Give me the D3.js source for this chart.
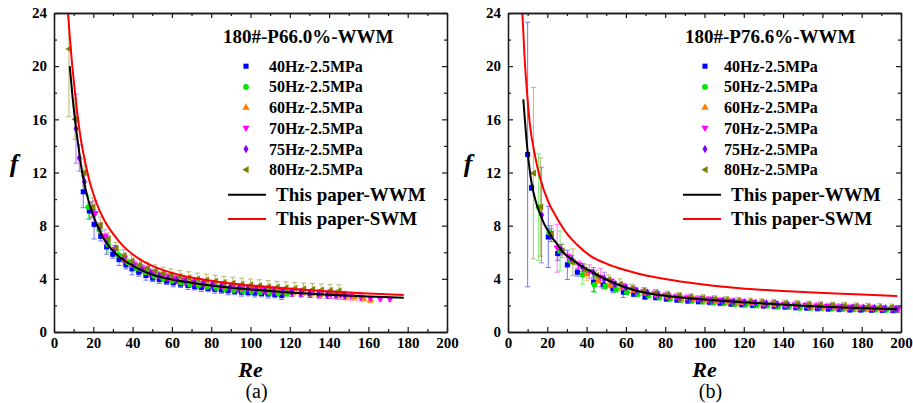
<!DOCTYPE html>
<html>
<head>
<meta charset="utf-8">
<script src="https://cdn.jsdelivr.net/npm/d3@7"></script>
<style>
body { margin: 0; background: #fff; }
svg { font-family: "Liberation Serif", "Times New Roman", serif; }
</style>
</head>
<body>
<div id="chart"></div>
<script>
// ticks
var reTicks = [0, 20, 40, 60, 80, 100, 120, 140, 160, 180, 200];
var reMinor = [10, 30, 50, 70, 90, 110, 130, 150, 170, 190];
var fTicks = [0, 4, 8, 12, 16, 20, 24];
var fMinor = [2, 6, 10, 14, 18, 22];

var seriesNames = ["40Hz-2.5MPa", "50Hz-2.5MPa", "60Hz-2.5MPa", "70Hz-2.5MPa", "75Hz-2.5MPa", "80Hz-2.5MPa"];
var seriesColors = ["#0000ff", "#00e600", "#ff8000", "#ff00ff", "#8000ff", "#808000"];
var lineNames = ["This paper-WWM", "This paper-SWM"];
var lineColors = ["#000000", "#ff0000"];

// panel (a) : [Re, f, error]
var a40 = [[14.9,10.55,1.2],[18.0,9.1,0.6],[20.4,8.1,1.1],[23.8,7.2,0.35],[26.8,6.4,0.55],[29.9,5.85,0.3],[33.1,5.45,0.45],[36.6,5.05,0.3],[39.7,4.75,0.45],[43.1,4.5,0.3],[46.8,4.25,0.35],[50.2,4.05,0.25],[53.6,3.95,0.3],[57.3,3.82,0.25],[60.7,3.7,0.3],[64.4,3.6,0.25],[68.2,3.5,0.3],[71.6,3.42,0.25],[75.0,3.35,0.3],[78.4,3.28,0.25],[81.8,3.22,0.3],[85.2,3.16,0.25],[88.6,3.1,0.3],[92.0,3.06,0.25],[95.4,3.0,0.3],[98.8,2.97,0.25],[102.2,2.93,0.3],[105.6,2.9,0.25],[109.0,2.86,0.3],[112.4,2.82,0.25],[115.9,2.75,0.3]];
var a50 = [[17.5,9.4,0.9],[23.1,7.7,0.3],[27.5,6.6,0.6],[32.7,5.8,0.35],[37.5,5.25,0.25],[42,4.8,0.3],[46.5,4.5,0.25],[51,4.22,0.25],[55.5,4.02,0.25],[60,3.85,0.25],[64.5,3.72,0.25],[69,3.6,0.25],[73.5,3.5,0.25],[78,3.4,0.25],[82.5,3.32,0.25],[87,3.24,0.25],[91.5,3.16,0.25],[96,3.1,0.25],[100.5,3.05,0.25],[105,3.0,0.25],[109.5,2.96,0.25],[114,2.92,0.25],[118.5,2.9,0.25]];
var a60 = [[36,5.4,0.3],[40.5,5.0,0.3],[45,4.7,0.25],[49.5,4.4,0.25],[54,4.2,0.25],[58.5,4.02,0.25],[63,3.9,0.25],[67.5,3.78,0.25],[72,3.67,0.25],[76.5,3.58,0.25],[81,3.5,0.25],[85.5,3.42,0.25],[90,3.35,0.25],[94.5,3.28,0.25],[99,3.22,0.25],[103.5,3.17,0.25],[108,3.12,0.25],[112.5,3.06,0.25],[117,3.0,0.25],[121.5,2.96,0.25],[126,2.9,0.25],[130.5,2.86,0.25],[135,2.82,0.25],[139.5,2.76,0.25],[144,2.72,0.25],[148.5,2.66,0.25],[153,2.6,0.25],[157.5,2.52,0.2],[161,2.38,0.2]];
var a70 = [[21,8.9,1.0],[26,7.2,0.5],[31,6.2,0.3],[36,5.55,0.3],[41,5.05,0.3],[46,4.72,0.3],[51,4.42,0.3],[56,4.2,0.3],[61,4.02,0.3],[66,3.88,0.3],[71,3.75,0.3],[76,3.64,0.3],[81,3.54,0.3],[86,3.46,0.3],[91,3.38,0.3],[96,3.3,0.3],[101,3.24,0.3],[106,3.18,0.3],[111,3.1,0.3],[116,3.06,0.3],[121,3.0,0.3],[126,2.96,0.3],[131,2.9,0.3],[136,2.86,0.3],[141,2.82,0.3],[146,2.76,0.3],[151,2.7,0.3],[156,2.58,0.25],[161,2.5,0.2],[166,2.47,0.15],[171,2.46,0.15]];
var a75 = [[11.2,15.3,2.6],[12.9,13.1,1.0],[15.5,11.3,0.8],[19.3,9.2,0.6],[23,7.9,0.3],[27,6.9,0.3],[31,6.2,0.3],[35.5,5.55,0.3],[40,5.1,0.3],[44.5,4.75,0.3],[49,4.45,0.3],[53.5,4.22,0.3],[58,4.05,0.3],[62.5,3.92,0.3],[67,3.8,0.3],[71.5,3.7,0.3],[76,3.6,0.3],[80.5,3.52,0.3],[85,3.44,0.3],[89.5,3.36,0.3],[94,3.3,0.3],[98.5,3.24,0.3],[103,3.18,0.3],[107.5,3.12,0.3],[112,3.06,0.3],[116.5,3.02,0.3],[121,2.98,0.3],[125.5,2.94,0.3],[130,2.9,0.3],[134.5,2.86,0.3],[139,2.82,0.3],[143.5,2.79,0.3],[148,2.76,0.3]];
var a80 = [[7.6,21.3,5.1],[10.7,16.0,1.5],[15.3,12.0,1.0],[19.5,9.4,0.7],[23.5,8.05,0.6],[27.5,7.0,0.45],[31.5,6.3,0.45],[35.5,5.75,0.45],[39.5,5.35,0.45],[43.5,5.05,0.45],[47.5,4.8,0.45],[51.5,4.6,0.45],[55.5,4.42,0.45],[59.5,4.3,0.45],[64,4.18,0.45],[68.5,4.08,0.45],[73,3.98,0.45],[77.5,3.9,0.45],[82,3.82,0.45],[86.5,3.74,0.45],[91,3.67,0.45],[95.5,3.6,0.45],[100,3.54,0.45],[104.5,3.48,0.45],[109,3.42,0.45],[113.5,3.37,0.45],[118,3.32,0.45],[122.5,3.28,0.45],[127,3.24,0.45],[131.5,3.2,0.45],[136,3.16,0.45],[140.5,3.13,0.45],[145,3.1,0.45]];
// panel (a) model curves : [Re, f]
var aWWM = [[8,20.0],[9.5,17.6],[11,15.6],[12.5,13.9],[14,12.3],[16,10.8],[18.3,9.5],[20.5,8.55],[22.5,7.85],[25,7.1],[27,6.65],[30,6.1],[35.3,5.42],[40,5.0],[43.8,4.7],[50,4.33],[60,3.95],[69.2,3.72],[80,3.5],[90,3.33],[100,3.2],[120,2.97],[140,2.8],[160,2.67],[178,2.57]];
var aSWM = [[7.1,24.0],[8,22.3],[9,20.5],[10,19.0],[12,16.3],[14,14.2],[16,12.7],[18,11.4],[20,10.4],[23,9.2],[26,8.3],[30,7.4],[35,6.5],[40,5.85],[45,5.35],[50,4.98],[60,4.45],[70,4.1],[80,3.85],[90,3.65],[100,3.5],[120,3.25],[140,3.05],[160,2.9],[178,2.78]];

// panel (b)
var b40 = [[10,13.35,9.95],[12,10.85,0.2],[20.5,7.15,2.3],[25.3,5.9,0.5],[30.2,5.05,1.1],[35.3,4.5,0.3],[43.6,3.75,0.7],[48.5,3.55,0.3],[53.4,3.25,0.3],[58.7,3.0,0.4],[64,2.85,0.2],[69.7,2.65,0.2],[75.2,2.6,0.2],[80.6,2.5,0.2],[86,2.42,0.2],[91.5,2.35,0.2],[97,2.3,0.2],[102.5,2.25,0.2],[108,2.18,0.2],[113.5,2.12,0.2],[119,2.07,0.2],[124.5,2.02,0.2],[130,1.98,0.2],[135.5,1.94,0.2],[141,1.9,0.2],[146.5,1.85,0.2],[152,1.82,0.2],[157.5,1.78,0.2],[163,1.75,0.2],[168.5,1.72,0.2],[174,1.68,0.2],[179.5,1.68,0.2],[185,1.66,0.2],[190.5,1.65,0.2],[196,1.64,0.2]];
var b50 = [[15.6,9.4,4.0],[21,7.5,0.5],[26.5,6.1,1.5],[32,5.35,0.3],[38,4.3,0.7],[44,3.55,0.6],[49.5,3.45,0.2],[55,3.2,0.2],[60.5,3.0,0.2],[66,2.85,0.2],[71.5,2.75,0.2],[77,2.6,0.2],[82.5,2.52,0.2],[88,2.42,0.2],[93.5,2.36,0.2],[99,2.3,0.2],[104.5,2.22,0.2],[110,2.18,0.2],[115.5,2.1,0.2],[121,2.06,0.2],[126.5,2.02,0.2],[132,2.0,0.2],[137.5,1.92,0.2],[143,1.9,0.2],[148.5,1.83,0.2],[154,1.82,0.2],[159.5,1.8,0.2],[165,1.78,0.2],[170.5,1.75,0.2],[176,1.73,0.2],[181.5,1.72,0.2],[187,1.7,0.2],[192.5,1.68,0.2],[198,1.66,0.2]];
var b60 = [[40,4.35,0.5],[46,3.85,0.2],[52,3.5,0.2],[58,3.3,0.2],[64,3.1,0.2],[70,2.9,0.2],[76,2.75,0.2],[82,2.62,0.2],[88,2.52,0.2],[94,2.45,0.2],[100,2.38,0.2],[106,2.3,0.2],[112,2.25,0.2],[118,2.2,0.2],[124,2.12,0.2],[130,2.08,0.2],[136,2.03,0.2],[142,1.98,0.2],[148,1.94,0.2],[154,1.9,0.2],[160,1.86,0.2],[166,1.82,0.2],[172,1.8,0.2],[178,1.77,0.2],[184,1.74,0.2],[190,1.72,0.2]];
var b70 = [[25,6.3,1.8],[30.5,5.65,0.3],[36,5.05,0.3],[41.5,4.55,0.5],[47,4.1,0.7],[52.5,3.8,0.25],[58,3.45,0.25],[63.5,3.2,0.25],[69,3.0,0.25],[74.5,2.85,0.25],[80,2.72,0.25],[85.5,2.63,0.25],[91,2.55,0.25],[96.5,2.48,0.25],[102,2.42,0.25],[107.5,2.36,0.25],[113,2.3,0.25],[118.5,2.25,0.25],[124,2.2,0.25],[129.5,2.15,0.25],[135,2.1,0.25],[140.5,2.06,0.25],[146,2.02,0.25],[151.5,1.98,0.25],[157,1.95,0.25],[162.5,1.91,0.25],[168,1.87,0.25],[173.5,1.84,0.25],[179,1.8,0.25],[184.5,1.78,0.25],[190,1.75,0.25],[195.5,1.73,0.25],[198.5,1.7,0.25]];
var b75 = [[17.1,8.8,3.6],[22,7.3,0.5],[27,6.2,0.4],[32.5,5.45,0.3],[38,4.85,0.3],[43.5,4.45,0.4],[49,4.0,0.5],[54.5,3.6,0.2],[60,3.35,0.2],[65.5,3.1,0.2],[71,2.95,0.2],[76.5,2.82,0.2],[82,2.7,0.2],[87.5,2.6,0.2],[93,2.53,0.2],[98.5,2.46,0.2],[104,2.4,0.2],[109.5,2.34,0.2],[115,2.28,0.2],[120.5,2.23,0.2],[126,2.18,0.2],[131.5,2.13,0.2],[137,2.08,0.2],[142.5,2.03,0.2],[148,2.0,0.2],[153.5,1.97,0.2],[159,1.93,0.2],[164.5,1.9,0.2],[170,1.87,0.2],[175.5,1.84,0.2],[181,1.81,0.2],[186.5,1.79,0.2],[192,1.77,0.2],[197.5,1.74,0.2]];
var b80 = [[12.9,11.95,6.45],[16.6,9.4,3.7],[22,7.4,0.6],[27.5,6.1,0.5],[33,5.25,1.0],[39,4.7,0.4],[45,4.25,0.4],[51,3.95,0.35],[57,3.6,0.4],[63,3.3,0.3],[69,3.1,0.25],[75,2.95,0.25],[81,2.82,0.25],[87,2.72,0.25],[93,2.63,0.25],[99,2.55,0.25],[105,2.48,0.25],[111,2.42,0.25],[117,2.36,0.25],[123,2.3,0.25],[129,2.25,0.25],[135,2.2,0.25],[141,2.15,0.25],[147,2.11,0.25],[153,2.07,0.25],[159,2.03,0.25],[165,2.0,0.25],[171,1.97,0.25],[177,1.94,0.25],[183,1.91,0.25],[189,1.88,0.25],[195,1.85,0.25]];
var bWWM = [[7.8,17.5],[9.9,13.7],[12,11.2],[14,9.9],[16.3,8.9],[18.5,8.1],[20.5,7.6],[22.5,7.1],[24.8,6.65],[28,6.0],[33.2,5.4],[37,5.0],[41.7,4.6],[46,4.25],[50,3.95],[57,3.5],[67,3.05],[76,2.8],[88,2.6],[100,2.45],[118,2.25],[135,2.1],[150,1.98],[170,1.85],[198,1.72]];
var bSWM = [[7.3,24.0],[8.5,20.5],[9.5,18.4],[11,15.8],[13.7,13.3],[16.3,11.6],[20.5,9.8],[24.8,8.6],[30,7.4],[34.9,6.6],[41.7,5.75],[50,5.15],[58.7,4.7],[67,4.37],[75.7,4.1],[92.6,3.7],[118,3.29],[140,3.08],[158,2.95],[180,2.82],[198,2.7]];

var W = 913, H = 403;
var svg = d3.select("#chart").append("svg")
  .attr("width", W).attr("height", H);

// simbolos
var triDown = { draw: function(ctx, size) { var r = Math.sqrt(size / 1.3) ; ctx.moveTo(0, r * 0.75); ctx.lineTo(r * 0.75, -r * 0.55); ctx.lineTo(-r * 0.75, -r * 0.55); ctx.closePath(); } };
var triLeft = { draw: function(ctx, size) { var r = Math.sqrt(size / 1.3); ctx.moveTo(-r * 0.75, 0); ctx.lineTo(r * 0.55, -r * 0.75); ctx.lineTo(r * 0.55, r * 0.75); ctx.closePath(); } };
var seriesSymbols = [d3.symbolSquare, d3.symbolCircle, d3.symbolTriangle, triDown, d3.symbolDiamond, triLeft];
var symbolSizes = [26, 26, 24, 30, 22, 30];

function drawPanel(p) {
  var g = svg.append("g");
  var x = d3.scaleLinear().domain([0, 200]).range([p.x0, p.x1]);
  var y = d3.scaleLinear().domain([0, 24]).range([332, 13]);

  var clipId = "clip" + p.id;
  svg.append("clipPath").attr("id", clipId).append("rect")
    .attr("x", p.x0).attr("y", 13).attr("width", p.x1 - p.x0).attr("height", 319);

  // puntos y barras de error
  var plot = g.append("g").attr("clip-path", "url(#" + clipId + ")");
  p.series.forEach(function(data, i) {
    var col = seriesColors[i];
    var eb = plot.append("g").attr("stroke", col).attr("stroke-width", 1).attr("opacity", 0.55);
    eb.selectAll("line.v").data(data).enter().append("line")
      .attr("x1", function(d) { return x(d[0]); }).attr("x2", function(d) { return x(d[0]); })
      .attr("y1", function(d) { return y(d[1] - d[2]); }).attr("y2", function(d) { return y(d[1] + d[2]); });
    eb.selectAll("line.t").data(data).enter().append("line")
      .attr("x1", function(d) { return x(d[0]) - 2.5; }).attr("x2", function(d) { return x(d[0]) + 2.5; })
      .attr("y1", function(d) { return y(d[1] + d[2]); }).attr("y2", function(d) { return y(d[1] + d[2]); });
    eb.selectAll("line.b").data(data).enter().append("line")
      .attr("x1", function(d) { return x(d[0]) - 2.5; }).attr("x2", function(d) { return x(d[0]) + 2.5; })
      .attr("y1", function(d) { return y(d[1] - d[2]); }).attr("y2", function(d) { return y(d[1] - d[2]); });
  });
  p.series.forEach(function(data, i) {
    plot.selectAll(null).data(data).enter().append("path")
      .attr("d", d3.symbol().type(seriesSymbols[i]).size(symbolSizes[i]))
      .attr("transform", function(d) { return "translate(" + x(d[0]) + "," + y(d[1]) + ")"; })
      .attr("fill", seriesColors[i]);
  });

  // curvas
  var line = d3.line().x(function(d) { return x(d[0]); }).y(function(d) { return y(d[1]); })
    .curve(d3.curveMonotoneX);
  plot.append("path").datum(p.wwm).attr("d", line)
    .attr("fill", "none").attr("stroke", lineColors[0]).attr("stroke-width", 2);
  plot.append("path").datum(p.swm).attr("d", line)
    .attr("fill", "none").attr("stroke", lineColors[1]).attr("stroke-width", 2);

  // ejes
  function styleAxis(sel) {
    sel.selectAll("path").attr("stroke", "#1a1a1a").attr("stroke-width", 1.3);
    sel.selectAll("line").attr("stroke", "#1a1a1a").attr("stroke-width", 1.2);
    sel.selectAll("text").attr("fill", "#000").style("font-size", "15px").style("font-weight", "bold")
      .style("font-family", "'Liberation Serif', serif");
  }
  g.append("g").attr("transform", "translate(0,332)")
    .call(d3.axisBottom(x).tickValues(reTicks).tickSize(-5).tickSizeOuter(0).tickPadding(5)).call(styleAxis);
  g.append("g").attr("transform", "translate(0,332)")
    .call(d3.axisBottom(x).tickValues(reMinor).tickSize(-3).tickSizeOuter(0).tickFormat("")).call(styleAxis);
  g.append("g").attr("transform", "translate(0,13)")
    .call(d3.axisTop(x).tickValues(reTicks).tickSize(-5).tickSizeOuter(0).tickFormat("")).call(styleAxis);
  g.append("g").attr("transform", "translate(0,13)")
    .call(d3.axisTop(x).tickValues(reMinor).tickSize(-3).tickSizeOuter(0).tickFormat("")).call(styleAxis);
  g.append("g").attr("transform", "translate(" + p.x0 + ",0)")
    .call(d3.axisLeft(y).tickValues(fTicks).tickSize(-5).tickSizeOuter(0).tickPadding(7)).call(styleAxis);
  g.append("g").attr("transform", "translate(" + p.x0 + ",0)")
    .call(d3.axisLeft(y).tickValues(fMinor).tickSize(-3).tickSizeOuter(0).tickFormat("")).call(styleAxis);
  g.append("g").attr("transform", "translate(" + p.x1 + ",0)")
    .call(d3.axisRight(y).tickValues(fTicks).tickSize(-5).tickSizeOuter(0).tickFormat("")).call(styleAxis);
  g.append("g").attr("transform", "translate(" + p.x1 + ",0)")
    .call(d3.axisRight(y).tickValues(fMinor).tickSize(-3).tickSizeOuter(0).tickFormat("")).call(styleAxis);

  // titulos de ejes
  g.append("text").attr("x", (p.x0 + p.x1) / 2).attr("y", 377).attr("text-anchor", "middle")
    .style("font-size", "22px").style("font-weight", "bold").style("font-style", "italic").text("Re");
  g.append("text").attr("x", p.x0 - 40).attr("y", 172).attr("text-anchor", "middle")
    .style("font-size", "26px").style("font-weight", "bold").style("font-style", "italic").text("f");
  g.append("text").attr("x", (p.x0 + p.x1) / 2 + 6).attr("y", 398).attr("text-anchor", "middle")
    .style("font-size", "20px").text(p.label);

  // leyenda
  var lg = g.append("g");
  lg.append("text").attr("x", p.lx).attr("y", 43.3)
    .style("font-size", "19px").style("font-weight", "bold").text(p.title);
  seriesNames.forEach(function(name, i) {
    var yy = 71.7 + i * 20.7;
    lg.append("path").attr("d", d3.symbol().type(seriesSymbols[i]).size(symbolSizes[i]))
      .attr("transform", "translate(" + p.mx + "," + (yy - 5.5) + ")")
      .attr("fill", seriesColors[i]);
    lg.append("text").attr("x", p.tx).attr("y", yy)
      .style("font-size", "16px").style("font-weight", "bold").text(name);
  });
  lineNames.forEach(function(name, i) {
    var yy = 200.7 + i * 24.3;
    lg.append("line").attr("x1", p.l1).attr("x2", p.l1 + 38)
      .attr("y1", yy - 6).attr("y2", yy - 6)
      .attr("stroke", lineColors[i]).attr("stroke-width", 2);
    lg.append("text").attr("x", p.l1 + 48).attr("y", yy)
      .style("font-size", "19px").style("font-weight", "bold").text(name);
  });
}

drawPanel({ id: "a", x0: 54, x1: 447, lx: 223, mx: 246, tx: 269, l1: 228,
  title: "180#-P66.0%-WWM", label: "(a)",
  series: [a40, a50, a60, a70, a75, a80], wwm: aWWM, swm: aSWM });
drawPanel({ id: "b", x0: 508, x1: 901, lx: 685, mx: 705, tx: 724, l1: 683,
  title: "180#-P76.6%-WWM", label: "(b)",
  series: [b40, b50, b60, b70, b75, b80], wwm: bWWM, swm: bSWM });
</script>
</body>
</html>
